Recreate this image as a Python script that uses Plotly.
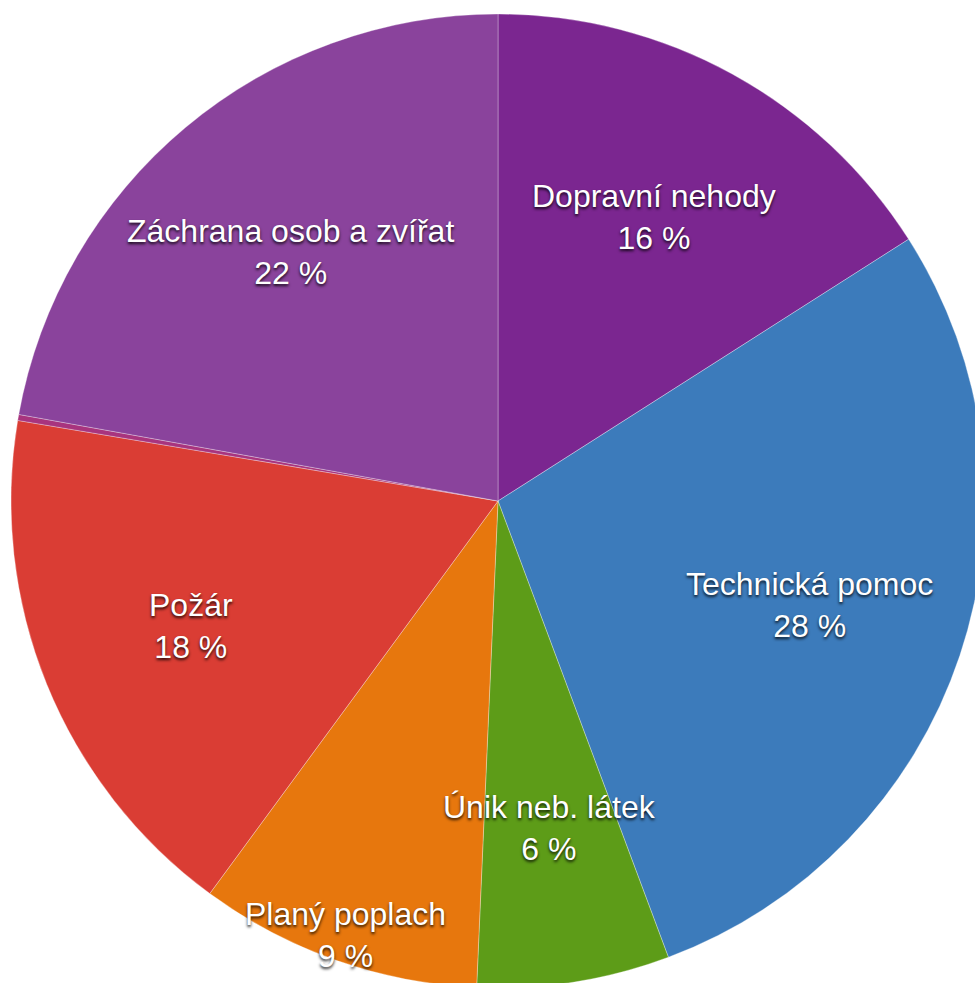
import math
import plotly.graph_objects as go

# ---- data ----
labels = ["Dopravní nehody", "Technická pomoc", "Únik neb. látek", "Planý poplach",
          "Požár", "Ostatní", "Záchrana osob a zvířat"]
values = [160, 284, 64, 94, 176, 2, 222]

# ---- style ----
colors = ["#7B2690", "#3C7BBB", "#5D9C18", "#E7770D", "#DA3D34", "#A8347E", "#8A439C"]
label_radius = [0.665, 0.675, 0.68, 0.945, 0.68, 0.0, 0.665]

W, H = 985, 988
CX, CY, R = 498, 501, 487

fig = go.Figure(go.Pie(
    labels=labels,
    values=values,
    sort=False,
    direction="clockwise",
    rotation=0,
    textinfo="none",
    hoverinfo="skip",
    marker=dict(colors=colors, line=dict(color="rgba(255,255,255,0.3)", width=1)),
    domain=dict(x=[(CX - R) / W, min(1, (CX + R) / W)],
                y=[max(0, (H - CY - R) / H), (H - CY + R) / H]),
    showlegend=False,
))

total = sum(values)
annotations = []
cum = 0.0
for lab, v, f in zip(labels, values, label_radius):
    frac = v / total
    mid = (cum + frac / 2) * 2 * math.pi
    cum += frac
    pct = round(frac * 100)
    if pct < 1:
        continue
    px = CX + f * R * math.sin(mid)
    py = CY - f * R * math.cos(mid)
    annotations.append(dict(
        x=px / W, y=1 - py / H, xref="paper", yref="paper",
        text=f"{lab}<br>{pct} %", showarrow=False,
        xanchor="center", yanchor="middle", align="center",
        font=dict(family="Liberation Sans, Arial, sans-serif", size=32, color="white",
                  shadow="0px 2px 3px rgba(0,0,0,0.85)"),
    ))

fig.update_layout(
    width=W, height=H, autosize=False,
    margin=dict(l=0, r=0, t=0, b=0),
    paper_bgcolor="white", plot_bgcolor="white",
    annotations=annotations,
)

fig.write_html(
    "out.html",
    config={"displayModeBar": False},
    post_script="document.body.style.margin='0';document.body.style.overflow='hidden';"
                "document.documentElement.style.overflow='hidden';",
)
